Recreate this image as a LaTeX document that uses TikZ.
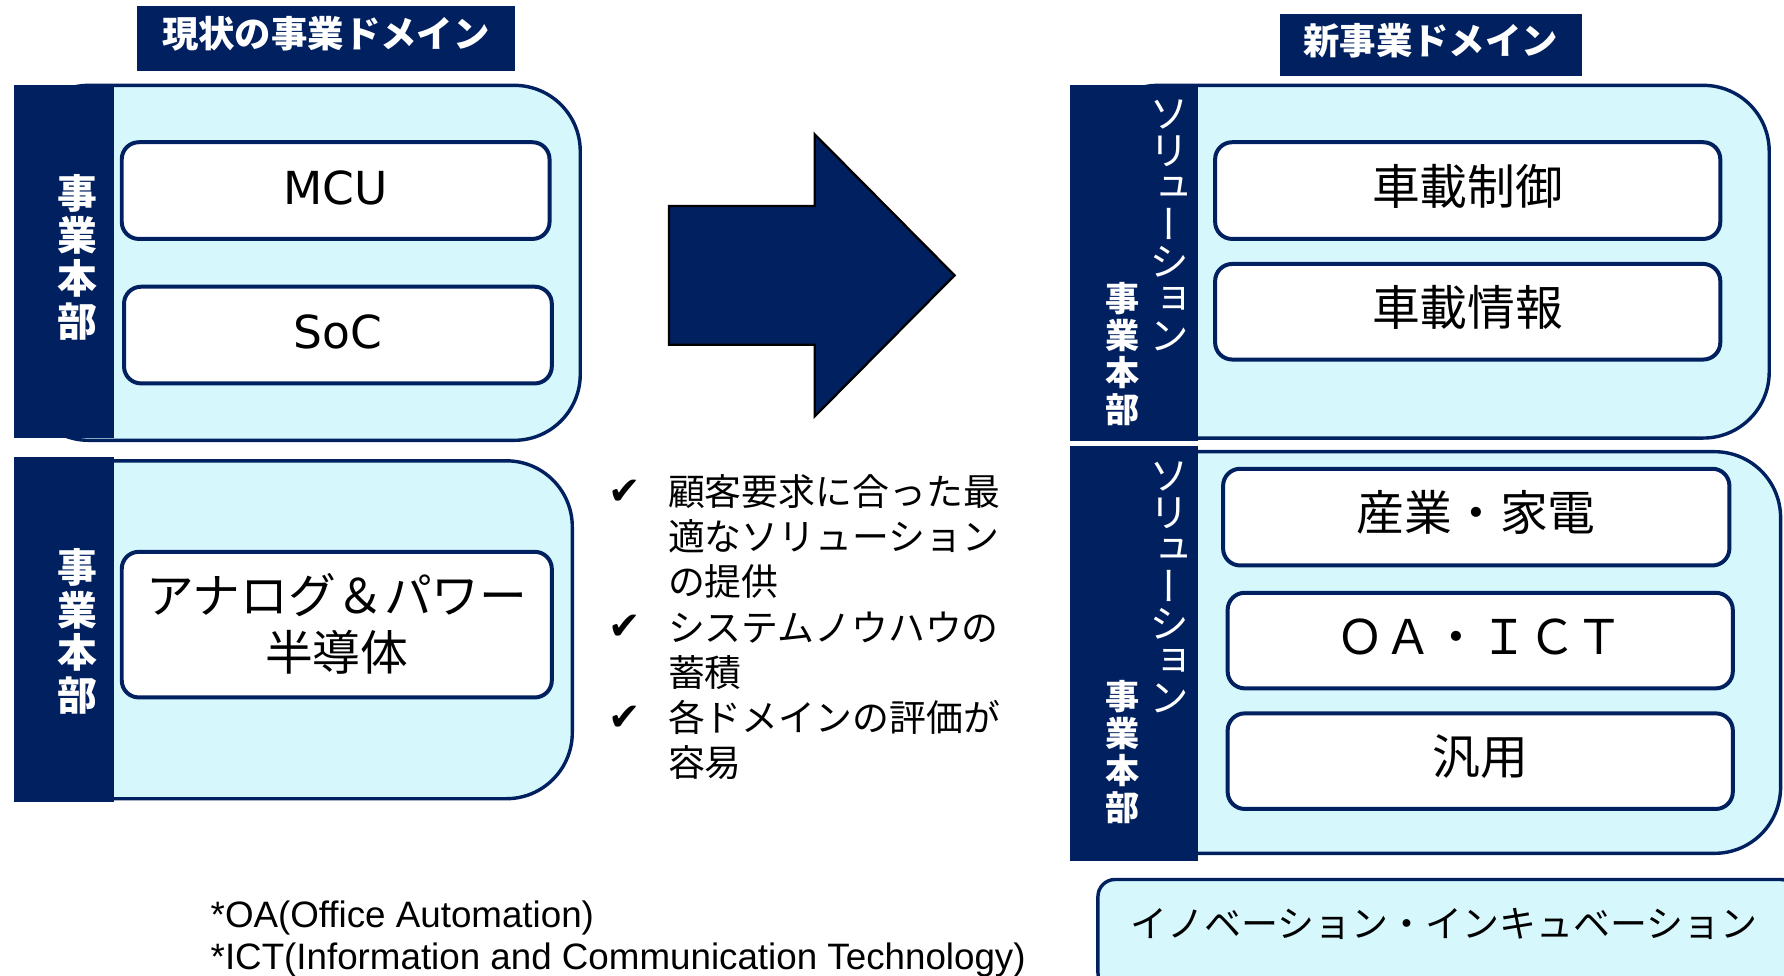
\documentclass[tikz,border=0pt]{standalone}
\usepackage{fontspec}
\setmainfont{Noto Sans CJK JP}
\newfontfamily\jpv[RawFeature={+vert}]{Noto Sans CJK JP}
\newfontfamily\dv{DejaVu Sans}
\newfontfamily\ls{Liberation Sans}
\newcommand{\myfs}[2]{\fontsize{#1pt}{#2pt}\selectfont}
\definecolor{navy}{RGB}{0,32,96}
\definecolor{lightc}{RGB}{214,248,252}
\begin{document}
\begin{tikzpicture}[x=1pt,y=-1pt,
  grp/.style={fill=lightc, draw=navy, line width=3pt, rounded corners=58pt},
  barc/.style={fill=navy},
  itm/.style={fill=white, draw=navy, line width=3.5pt, rounded corners=15pt, inner sep=0pt,
    font=\myfs{42}{42}, text height=30pt, text depth=6pt},
  ttl/.style={fill=navy, text=white, font=\bfseries\myfs{32}{32}, inner sep=0pt,
    text height=22pt, text depth=5pt},
  vtxt/.style={text=white, align=center, inner sep=0pt},
  chk/.style={font=\dv\myfs{34}{34}, anchor=base west, inner sep=0pt},
]
\useasboundingbox (0,0) rectangle (1568,857);

% ---------- titles ----------
\node[ttl, minimum width=333pt, minimum height=57pt] (t1) at (286.5,33.5) {現状の事業ドメイン};
\node[ttl, minimum width=265pt, minimum height=55pt] (t2) at (1257.5,39.5) {新事業ドメイン};

% ---------- left groups ----------
\draw[grp] (20,75) rectangle (510,387);
\fill[barc] (12,75) rectangle (100,385);
\node[vtxt, font=\bfseries\myfs{35}{37.5}] (lv1) at (68,226) {事\\業\\本\\部};
\node[itm, minimum width=376pt, minimum height=85pt] (mcu) at (295,167.5) {\dv\myfs{40}{40}MCU};
\node[itm, minimum width=376pt, minimum height=85pt] (soc) at (297,294.5) {\dv\myfs{40}{40}SoC};

\draw[grp] (20,405) rectangle (503,702);
\fill[barc] (12,402) rectangle (100,705);
\node[vtxt, font=\bfseries\myfs{35}{37.5}] (lv2) at (68,555) {事\\業\\本\\部};
\node[itm, minimum width=378pt, minimum height=128pt] (ana) at (296,549) {};
\node[align=center, font=\myfs{42}{50}, inner sep=0pt] (anat) at (296,548) {アナログ＆パワー\\半導体};

% ---------- arrow ----------
\draw[fill=navy, draw=black, line width=2pt]
  (588,181) -- (716,181) -- (716,118) -- (839,242) -- (716,366) -- (716,303) -- (588,303) -- cycle;

% ---------- check list ----------
\node[chk] (c1) at (535,443) {✔};
\node[chk] (c2) at (535,562.5) {✔};
\node[chk] (c3) at (535,642) {✔};
\node[anchor=north west, align=left, inner sep=0pt, font=\myfs{32.4}{39.7}] (clist) at (587,417)
  {顧客要求に合った最\\適なソリューション\\の提供\\システムノウハウの\\蓄積\\各ドメインの評価が\\容易};

% ---------- footnotes ----------
\node[anchor=base west, inner sep=0pt, font=\ls\myfs{32.3}{32.3}] (f1) at (185,815) {*OA(Office Automation)};
\node[anchor=base west, inner sep=0pt, font=\ls\myfs{32.3}{32.3}] (f2) at (185,852.5) {*ICT(Information and Communication Technology)};

% ---------- right groups ----------
\draw[grp] (960,75) rectangle (1555,385);
\fill[barc] (940,75) rectangle (1053,388);
\node[vtxt, font=\jpv\myfs{35}{32.5}] (rs1) at (1028,198) {ソ\\リ\\ュ\\ー\\シ\\ョ\\ン};
\node[vtxt, font=\bfseries\myfs{30}{32.5}] (rv1) at (987,311) {事\\業\\本\\部};
\node[itm, minimum width=444pt, minimum height=85pt] (r1) at (1290,167.5) {車載制御};
\node[itm, minimum width=444pt, minimum height=84pt] (r2) at (1290,274) {車載情報};

\draw[grp] (960,397) rectangle (1565,750);
\fill[barc] (940,392) rectangle (1053,757);
\node[vtxt, font=\jpv\myfs{35}{32.5}] (rs2) at (1028,516) {ソ\\リ\\ュ\\ー\\シ\\ョ\\ン};
\node[vtxt, font=\bfseries\myfs{30}{32.5}] (rv2) at (987,661) {事\\業\\本\\部};
\node[itm, minimum width=445pt, minimum height=85pt] (r3) at (1297.5,454.5) {産業・家電};
\node[itm, minimum width=444pt, minimum height=84pt] (r4) at (1301,563) {ＯＡ・ＩＣＴ};
\node[itm, minimum width=444pt, minimum height=84pt] (r5) at (1301,669) {汎用};

% ---------- innovation ----------
\node[fill=lightc, draw=navy, line width=3pt, rounded corners=15pt, minimum width=615pt,
  minimum height=97pt, inner sep=0pt] (inno) at (1272.5,821.5) {};
\node[inner sep=0pt, font=\myfs{32.5}{32.5}, text height=28pt, text depth=3.2pt] (innot) at (1269,812)
  {イノベーション・インキュベーション};
\end{tikzpicture}
\end{document}
